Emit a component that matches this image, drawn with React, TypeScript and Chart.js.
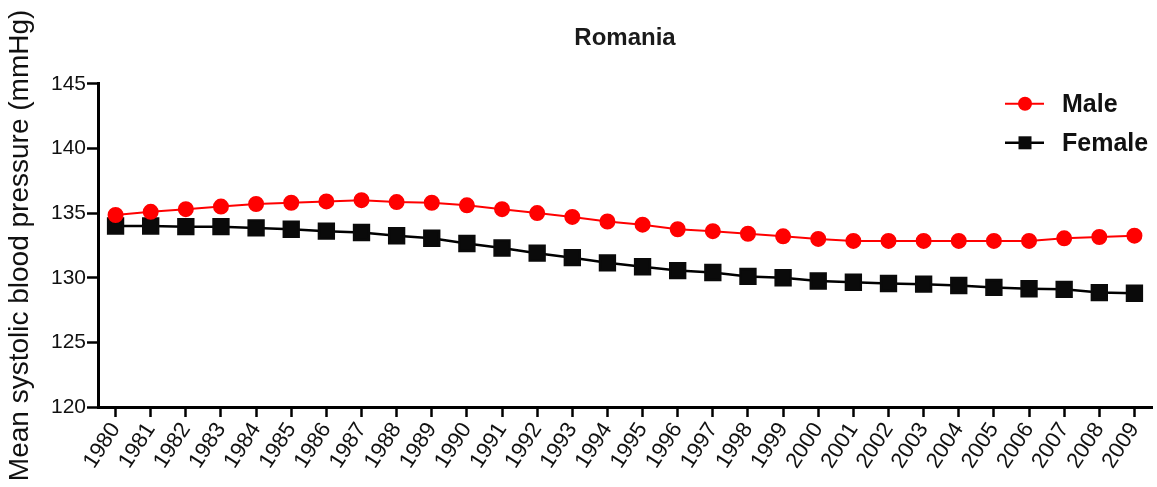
import React, { useEffect, useRef } from "react";
import { Chart, registerables } from "chart.js";

Chart.register(...registerables);

const years = [
  "1980", "1981", "1982", "1983", "1984", "1985", "1986", "1987", "1988", "1989",
  "1990", "1991", "1992", "1993", "1994", "1995", "1996", "1997", "1998", "1999",
  "2000", "2001", "2002", "2003", "2004", "2005", "2006", "2007", "2008", "2009",
];

const maleValues = [
  134.85, 135.1, 135.3, 135.5, 135.7, 135.8, 135.9, 136.0, 135.85, 135.8,
  135.6, 135.3, 135.0, 134.7, 134.35, 134.1, 133.75, 133.6, 133.4, 133.2,
  133.0, 132.85, 132.85, 132.85, 132.85, 132.85, 132.85, 133.05, 133.15, 133.25,
];

const femaleValues = [
  134.0, 134.0, 133.95, 133.95, 133.85, 133.75, 133.6, 133.5, 133.25, 133.05,
  132.65, 132.3, 131.9, 131.55, 131.15, 130.85, 130.55, 130.4, 130.1, 130.0,
  129.75, 129.65, 129.55, 129.5, 129.4, 129.25, 129.15, 129.1, 128.85, 128.8,
];

const yTicks = [120, 125, 130, 135, 140, 145];

const FONT = "'Liberation Sans', Arial, sans-serif";

const insideLegend = {
  id: "insideLegend",
  afterDatasetsDraw(chart: any) {
    const { ctx, chartArea } = chart;
    ctx.save();
    const x0 = chartArea.right - 147;
    chart.data.datasets.forEach((ds: any, i: number) => {
      const y = chartArea.top + 20 + i * 39;
      ctx.strokeStyle = ds.borderColor;
      ctx.lineWidth = ds.borderWidth;
      ctx.beginPath();
      ctx.moveTo(x0, y);
      ctx.lineTo(x0 + 39, y);
      ctx.stroke();
      ctx.fillStyle = ds.pointBackgroundColor;
      const cx = x0 + 20;
      if (ds.pointStyle === "rect") {
        ctx.fillRect(cx - 6.5, y - 6.5, 13, 13);
      } else {
        ctx.beginPath();
        ctx.arc(cx, y, 7, 0, Math.PI * 2);
        ctx.fill();
      }
      ctx.fillStyle = "#111";
      ctx.font = `bold 25px ${FONT}`;
      ctx.textAlign = "left";
      ctx.textBaseline = "middle";
      ctx.fillText(ds.label, x0 + 57, y + 1);
    });
    ctx.restore();
  },
};

const CANVAS_W = 1165;
const CANVAS_H = 487;

export default function App() {
  const canvasRef = useRef<HTMLCanvasElement | null>(null);

  useEffect(() => {
    document.body.style.margin = "0";
    document.body.style.overflow = "hidden";
    const canvas = canvasRef.current;
    if (!canvas) return;
    const chart = new Chart(canvas, {
      type: "line",
      data: {
        labels: years,
        datasets: [
          {
            label: "Male",
            data: maleValues,
            borderColor: "#ff0000",
            backgroundColor: "#ff0000",
            pointBackgroundColor: "#ff0000",
            pointBorderColor: "#ff0000",
            pointStyle: "circle",
            pointRadius: 7,
            borderWidth: 2,
            tension: 0,
          },
          {
            label: "Female",
            data: femaleValues,
            borderColor: "#000000",
            backgroundColor: "#000000",
            pointBackgroundColor: "#0a0a0a",
            pointBorderColor: "#0a0a0a",
            pointStyle: "rect",
            pointRadius: 10.5,
            borderWidth: 2.5,
            tension: 0,
          },
        ],
      },
      options: {
        animation: false,
        responsive: false,
        maintainAspectRatio: false,
        layout: { padding: { left: 0, right: 0, top: 0, bottom: 0 } },
        plugins: {
          legend: { display: false },
          tooltip: { enabled: false },
          title: {
            display: true,
            fullSize: false,
            text: "Romania",
            color: "#1a1a1a",
            font: { family: FONT, size: 24, weight: "bold" },
            padding: { top: 24, bottom: 31 },
          },
        },
        scales: {
          x: {
            type: "category",
            offset: true,
            grid: {
              display: true,
              drawOnChartArea: false,
              offset: false,
              tickLength: 10,
              tickWidth: 2.5,
              tickColor: "#000",
            },
            border: { display: true, color: "#000", width: 3 },
            ticks: {
              color: "#111",
              font: { family: FONT, size: 22 },
              minRotation: 57,
              maxRotation: 57,
              padding: 1,
              autoSkip: false,
            },
            afterFit: (scale: any) => {
              scale.height = 80;
            },
          },
          y: {
            type: "linear",
            min: 120,
            max: 145,
            afterBuildTicks: (scale: any) => {
              scale.ticks = yTicks.map((v) => ({ value: v }));
            },
            grid: {
              display: true,
              drawOnChartArea: false,
              tickLength: 11,
              tickWidth: 2.5,
              tickColor: "#000",
            },
            border: { display: true, color: "#000", width: 3 },
            ticks: {
              color: "#111",
              font: { family: FONT, size: 21 },
              padding: 1,
            },
            title: {
              display: true,
              text: "Mean systolic blood pressure (mmHg)",
              color: "#111",
              font: { family: FONT, size: 28 },
              padding: { top: 3, bottom: 0 },
            },
            afterFit: (scale: any) => {
              scale.width = 98;
            },
          },
        },
      },
      plugins: [insideLegend],
    });
    return () => chart.destroy();
  }, []);

  return (
    <div style={{ width: 1157, height: CANVAS_H, overflow: "hidden" }}>
      <canvas ref={canvasRef} width={CANVAS_W} height={CANVAS_H} style={{ display: "block" }} />
    </div>
  );
}
